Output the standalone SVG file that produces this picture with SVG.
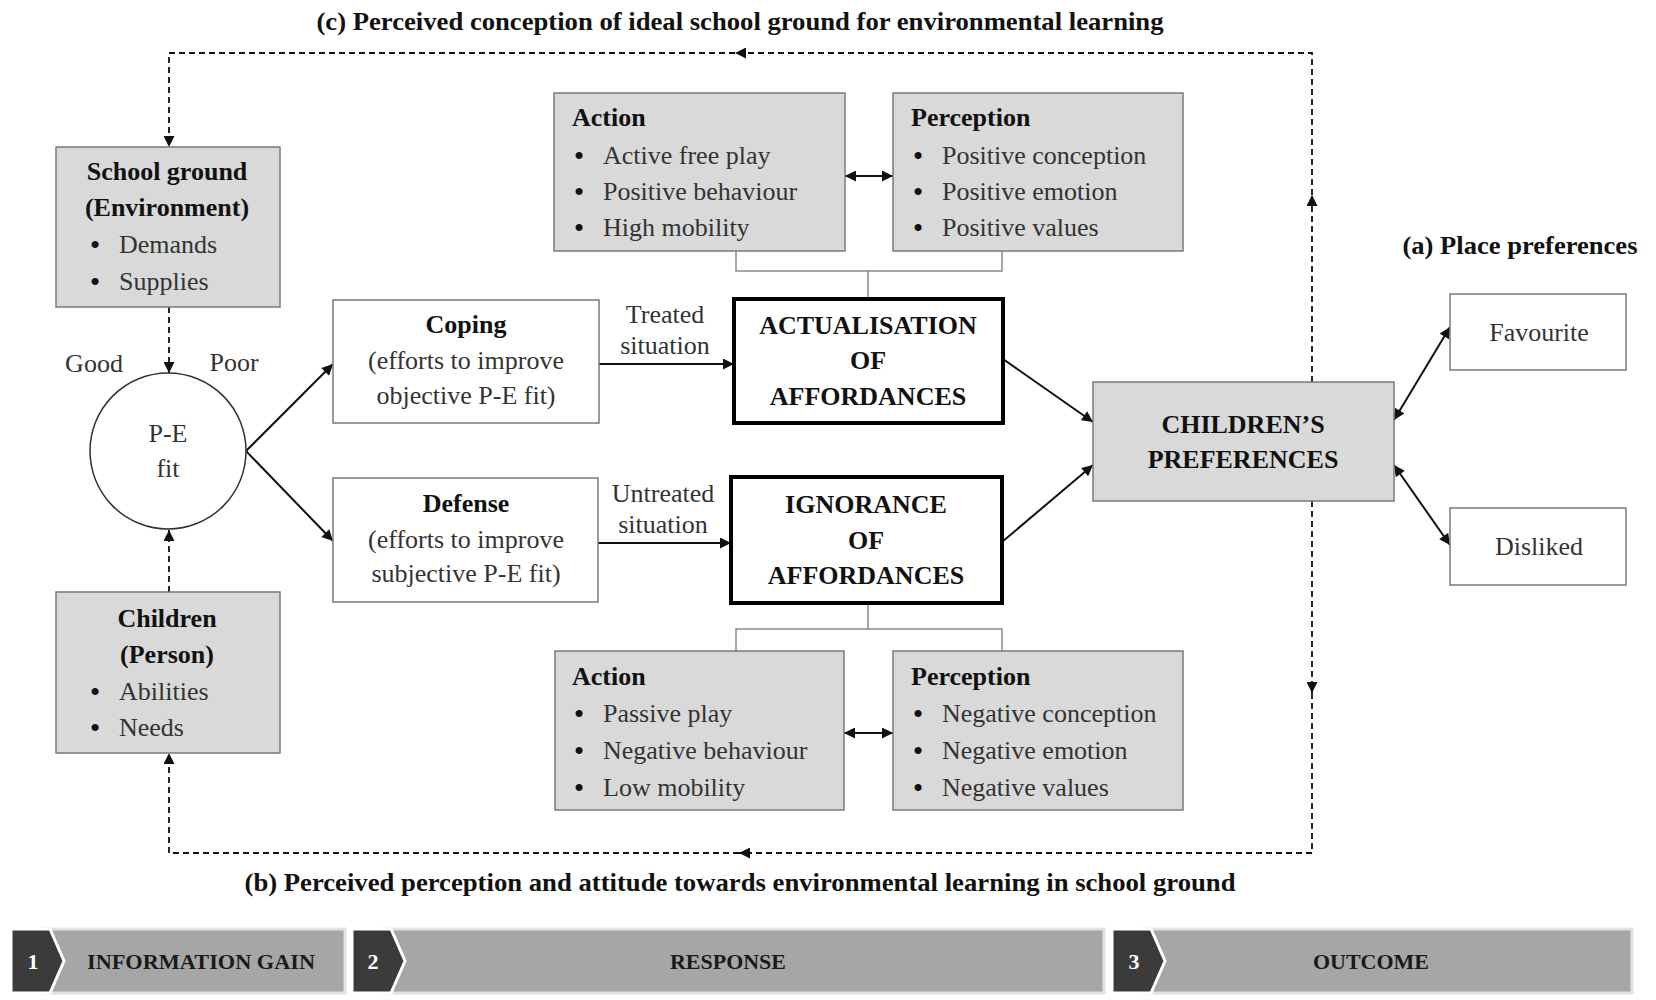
<svg xmlns="http://www.w3.org/2000/svg" width="1656" height="1000" viewBox="0 0 1656 1000">
<style>
  text { font-family: "Liberation Serif", "Times New Roman", serif; font-size: 26px; fill: #333; }
  .b { font-weight: bold; fill: #111; }
  .c { text-anchor: middle; }
  .bul { font-weight: bold; fill: #111; text-anchor: middle; }
  .grey { fill: #d9d9d9; stroke: #7a7a7a; stroke-width: 1.5; }
  .white { fill: #fff; stroke: #7a7a7a; stroke-width: 1.5; }
  .thick { fill: #fff; stroke: #000; stroke-width: 4; }
  .arrow { fill: none; stroke: #111; stroke-width: 2; }
  .dash { fill: none; stroke: #111; stroke-width: 1.8; stroke-dasharray: 6 4; }
  .bracket { fill: none; stroke: #8a8a8a; stroke-width: 1.5; }
  .strip { fill: #a6a6a6; stroke: #e2e2e2; stroke-width: 3; }
  .chev { fill: #3b3b3b; stroke: #fff; stroke-width: 3; }
  .num { font-weight: bold; fill: #fff; font-size: 22px; text-anchor: middle; }
  .stage { font-weight: bold; fill: #1a1a1a; font-size: 21px; text-anchor: middle; }
</style>
<defs>
  <marker id="ah" viewBox="0 0 10 10" refX="10" refY="5" markerWidth="13" markerHeight="11" markerUnits="userSpaceOnUse" orient="auto-start-reverse">
    <path d="M0,0 L10,5 L0,10 z" fill="#111"/>
  </marker>
</defs>
<rect width="1656" height="1000" fill="#fff"/>

<!-- Titles -->
<text class="b c" x="740" y="30" textLength="847" lengthAdjust="spacingAndGlyphs">(c) Perceived conception of ideal school ground for environmental learning</text>
<text class="b c" x="740" y="891" textLength="991" lengthAdjust="spacingAndGlyphs">(b) Perceived perception and attitude towards environmental learning in school ground</text>
<text class="b c" x="1520" y="254" textLength="235" lengthAdjust="spacingAndGlyphs">(a) Place preferences</text>

<!-- Connectors -->
<g id="connectors">
  <!-- feedback loop (c) -->
  <path class="dash" d="M1312 382 V195" marker-end="url(#ah)"/>
  <path class="dash" d="M1312 195 V53 H735" marker-end="url(#ah)"/>
  <path class="dash" d="M735 53 H169 V147" marker-end="url(#ah)"/>
  <path class="dash" d="M169 307 V373" marker-end="url(#ah)"/>
  <!-- feedback loop (b) -->
  <path class="dash" d="M1312 501 V693" marker-end="url(#ah)"/>
  <path class="dash" d="M1312 693 V853 H739" marker-end="url(#ah)"/>
  <path class="dash" d="M739 853 H169 V753" marker-end="url(#ah)"/>
  <path class="dash" d="M169 592 V530" marker-end="url(#ah)"/>
  <!-- P-E fit to coping / defense -->
  <path class="arrow" d="M246 451 L333 364" marker-end="url(#ah)"/>
  <path class="arrow" d="M246 451 L333 541" marker-end="url(#ah)"/>
  <!-- situations -->
  <path class="arrow" d="M599 364 H734" marker-end="url(#ah)"/>
  <path class="arrow" d="M598 543 H731" marker-end="url(#ah)"/>
  <!-- affordances to preferences -->
  <path class="arrow" d="M1003 359 L1093 422" marker-end="url(#ah)"/>
  <path class="arrow" d="M1002 542 L1093 465" marker-end="url(#ah)"/>
  <!-- preferences to favourite / disliked -->
  <path class="arrow" d="M1394 420 L1450 327" marker-start="url(#ah)" marker-end="url(#ah)"/>
  <path class="arrow" d="M1394 465 L1450 545" marker-start="url(#ah)" marker-end="url(#ah)"/>
  <!-- action <-> perception -->
  <path class="arrow" d="M845 176 H893" marker-start="url(#ah)" marker-end="url(#ah)"/>
  <path class="arrow" d="M844 733 H893" marker-start="url(#ah)" marker-end="url(#ah)"/>
  <!-- brackets -->
  <path class="bracket" d="M736 251 V271 H1002 V251 M868 271 V299"/>
  <path class="bracket" d="M868 603 V629 M736 651 V629 H1002 V651"/>
</g>

<!-- Nodes -->
<g id="school-ground">
  <rect class="grey" x="56" y="147" width="224" height="160"/>
  <text class="b c" x="167" y="180">School ground</text>
  <text class="b c" x="167" y="216">(Environment)</text>
  <text class="bul" x="95" y="253">•</text><text x="119" y="253">Demands</text>
  <text class="bul" x="95" y="290">•</text><text x="119" y="290">Supplies</text>
</g>

<g id="pe-fit">
  <circle cx="168" cy="451" r="78" fill="#fff" stroke="#333" stroke-width="1.5"/>
  <text class="c" x="168" y="442">P-E</text>
  <text class="c" x="168" y="477">fit</text>
  <text class="c" x="94" y="372">Good</text>
  <text class="c" x="234" y="371">Poor</text>
</g>

<g id="children">
  <rect class="grey" x="56" y="592" width="224" height="161"/>
  <text class="b c" x="167" y="627">Children</text>
  <text class="b c" x="167" y="663">(Person)</text>
  <text class="bul" x="95" y="700">•</text><text x="119" y="700">Abilities</text>
  <text class="bul" x="95" y="736">•</text><text x="119" y="736">Needs</text>
</g>

<g id="coping">
  <rect class="white" x="333" y="300" width="266" height="123"/>
  <text class="b c" x="466" y="333">Coping</text>
  <text class="c" x="466" y="369">(efforts to improve</text>
  <text class="c" x="466" y="404">objective P-E fit)</text>
</g>

<g id="defense">
  <rect class="white" x="333" y="478" width="265" height="124"/>
  <text class="b c" x="466" y="512">Defense</text>
  <text class="c" x="466" y="548">(efforts to improve</text>
  <text class="c" x="466" y="582">subjective P-E fit)</text>
</g>

<g id="labels-situation">
  <text class="c" x="665" y="323">Treated</text>
  <text class="c" x="665" y="354">situation</text>
  <text class="c" x="663" y="502">Untreated</text>
  <text class="c" x="663" y="533">situation</text>
</g>

<g id="actualisation">
  <rect class="thick" x="734" y="299" width="269" height="124"/>
  <text class="b c" x="868" y="334">ACTUALISATION</text>
  <text class="b c" x="868" y="369">OF</text>
  <text class="b c" x="868" y="405">AFFORDANCES</text>
</g>

<g id="ignorance">
  <rect class="thick" x="731" y="477" width="271" height="126"/>
  <text class="b c" x="866" y="513">IGNORANCE</text>
  <text class="b c" x="866" y="549">OF</text>
  <text class="b c" x="866" y="584">AFFORDANCES</text>
</g>

<g id="action-positive">
  <rect class="grey" x="554" y="93" width="291" height="158"/>
  <text class="b" x="572" y="126">Action</text>
  <text class="bul" x="579" y="164">•</text><text x="603" y="164">Active free play</text>
  <text class="bul" x="579" y="200">•</text><text x="603" y="200">Positive behaviour</text>
  <text class="bul" x="579" y="236">•</text><text x="603" y="236">High mobility</text>
</g>

<g id="perception-positive">
  <rect class="grey" x="893" y="93" width="290" height="158"/>
  <text class="b" x="911" y="126">Perception</text>
  <text class="bul" x="918" y="164">•</text><text x="942" y="164">Positive conception</text>
  <text class="bul" x="918" y="200">•</text><text x="942" y="200">Positive emotion</text>
  <text class="bul" x="918" y="236">•</text><text x="942" y="236">Positive values</text>
</g>

<g id="action-negative">
  <rect class="grey" x="555" y="651" width="289" height="159"/>
  <text class="b" x="572" y="685">Action</text>
  <text class="bul" x="579" y="722">•</text><text x="603" y="722">Passive play</text>
  <text class="bul" x="579" y="759">•</text><text x="603" y="759">Negative behaviour</text>
  <text class="bul" x="579" y="796">•</text><text x="603" y="796">Low mobility</text>
</g>

<g id="perception-negative">
  <rect class="grey" x="893" y="651" width="290" height="159"/>
  <text class="b" x="911" y="685">Perception</text>
  <text class="bul" x="918" y="722">•</text><text x="942" y="722">Negative conception</text>
  <text class="bul" x="918" y="759">•</text><text x="942" y="759">Negative emotion</text>
  <text class="bul" x="918" y="796">•</text><text x="942" y="796">Negative values</text>
</g>

<g id="childrens-preferences">
  <rect class="grey" x="1093" y="382" width="301" height="119"/>
  <text class="b c" x="1243" y="433">CHILDREN’S</text>
  <text class="b c" x="1243" y="468">PREFERENCES</text>
</g>

<g id="favourite">
  <rect class="white" x="1450" y="294" width="176" height="76"/>
  <text class="c" x="1539" y="341">Favourite</text>
</g>

<g id="disliked">
  <rect class="white" x="1450" y="508" width="176" height="77"/>
  <text class="c" x="1539" y="555">Disliked</text>
</g>

<!-- Stage bar -->
<g id="stage-1">
  <rect class="strip" x="40" y="929" width="305" height="64"/>
  <polygon class="chev" points="11,929 50,929 64,961 50,993 11,993"/>
  <text class="num" x="33" y="969">1</text>
  <text class="stage" x="201" y="969" textLength="228" lengthAdjust="spacingAndGlyphs">INFORMATION GAIN</text>
</g>
<g id="stage-2">
  <rect class="strip" x="380" y="929" width="724" height="64"/>
  <polygon class="chev" points="352,929 391,929 405,961 391,993 352,993"/>
  <text class="num" x="373" y="969">2</text>
  <text class="stage" x="728" y="969" textLength="116" lengthAdjust="spacingAndGlyphs">RESPONSE</text>
</g>
<g id="stage-3">
  <rect class="strip" x="1140" y="929" width="492" height="64"/>
  <polygon class="chev" points="1112,929 1151,929 1165,961 1151,993 1112,993"/>
  <text class="num" x="1134" y="969">3</text>
  <text class="stage" x="1371" y="969" textLength="116" lengthAdjust="spacingAndGlyphs">OUTCOME</text>
</g>
</svg>
